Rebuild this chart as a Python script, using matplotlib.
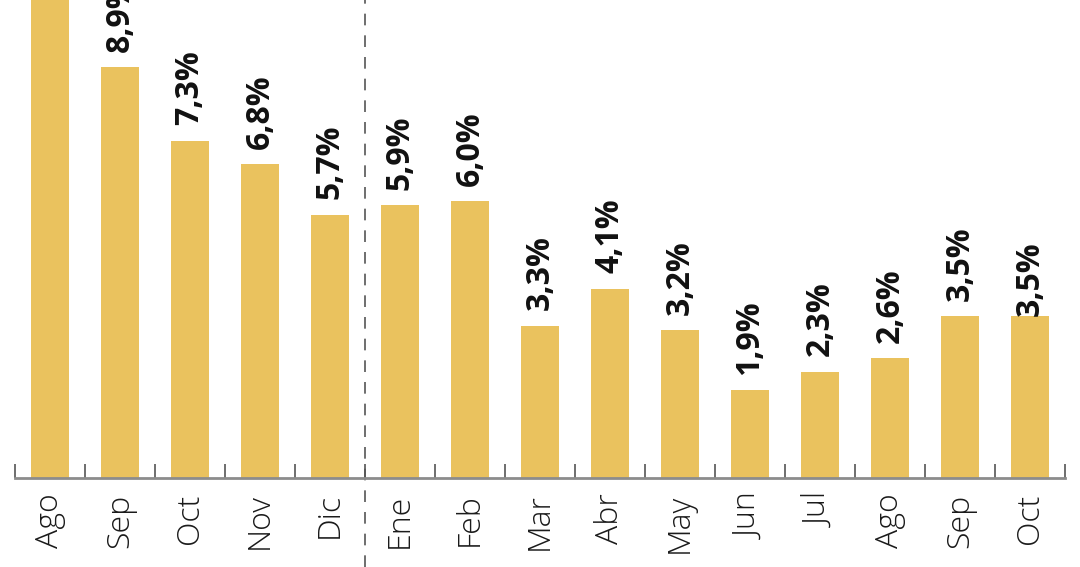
import matplotlib
matplotlib.use("Agg")
import matplotlib.pyplot as plt
import matplotlib.transforms as mtransforms
import numpy as np

months = ["Ago", "Sep", "Oct", "Nov", "Dic", "Ene", "Feb", "Mar", "Abr", "May",
          "Jun", "Jul", "Ago", "Sep", "Oct"]
values = [10.5, 8.9, 7.3, 6.8, 5.7, 5.9, 6.0, 3.3, 4.1, 3.2, 1.9, 2.3, 2.6, 3.5, 3.5]
labels = ["10,5%", "8,9%", "7,3%", "6,8%", "5,7%", "5,9%", "6,0%", "3,3%", "4,1%",
          "3,2%", "1,9%", "2,3%", "2,6%", "3,5%", "3,5%"]

BAR = "#EAC25E"
FONT = ["Open Sans", "DejaVu Sans"]

fig = plt.figure(figsize=(10.8, 5.67), dpi=100)
ax = fig.add_axes([15 / 1080, 89 / 567, 1050 / 1080, 478 / 567])

x = np.arange(len(months))
ax.bar(x, values, width=0.54, color=BAR, zorder=2)

ax.set_xlim(-0.5, len(months) - 0.5)
ax.set_ylim(0, 478 / 46.2)

for s in ["left", "right", "top"]:
    ax.spines[s].set_visible(False)
ax.spines["bottom"].set_color("#8c8c8c")
ax.spines["bottom"].set_linewidth(2)
ax.set_yticks([])

ax.set_xticks(x)
ax.set_xticklabels(months, rotation=90, fontsize=23, fontweight="light",
                   family=FONT, color="#1a1a1a")
ax.tick_params(axis="x", which="major", length=0, pad=11)
ax.set_xticks(np.arange(-0.5, len(months)), minor=True)
ax.tick_params(axis="x", which="minor", direction="in", length=10, width=1.2,
               color="#555555")

for i, (v, lab) in enumerate(zip(values, labels)):
    off = 11 if i < len(values) - 1 else 0
    ax.annotate(lab, (i, v), xytext=(0, off), textcoords="offset points",
                rotation=90, ha="center", va="bottom", fontsize=23,
                fontweight="bold", family=FONT, color="#111111",
                annotation_clip=False)

trans = mtransforms.blended_transform_factory(ax.transData, fig.transFigure)
ax.plot([4.5, 4.5], [0, 1], transform=trans, color="#555555", lw=1.2,
        dashes=(7, 6), clip_on=False, zorder=1)

fig.savefig("out.png", dpi=100)
